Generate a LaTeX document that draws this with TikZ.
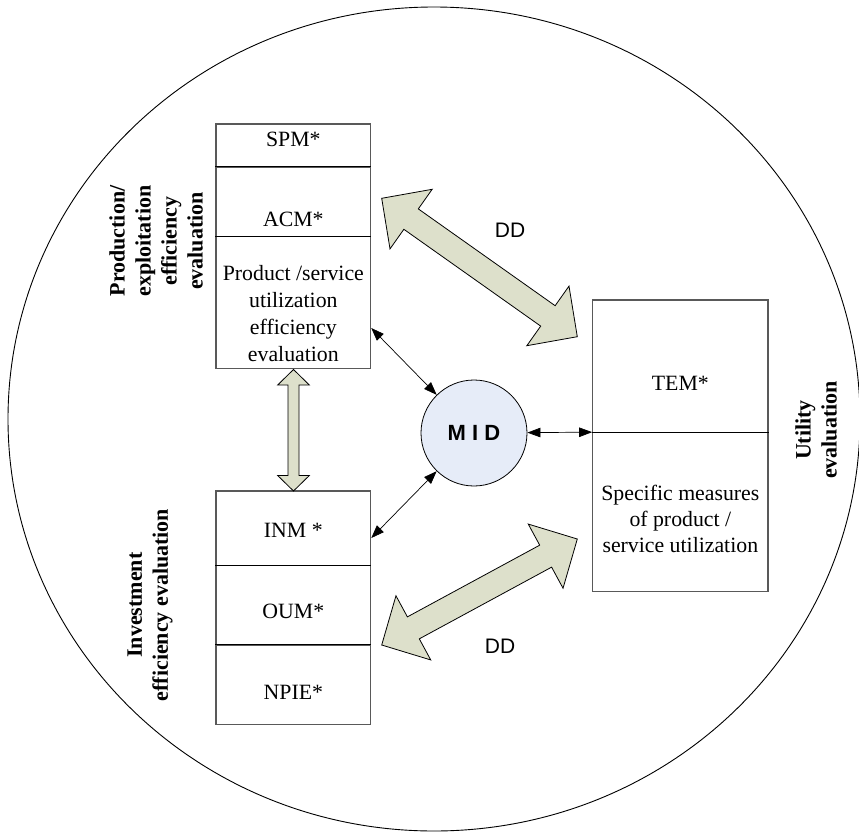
\documentclass[tikz,border=0pt]{standalone}
\usepackage{fontspec}
\setmainfont{Liberation Serif}
\newfontfamily\arialfont{Liberation Sans}
\usetikzlibrary{calc,arrows.meta}

\definecolor{arrowfill}{RGB}{221,224,203}
\definecolor{midfill}{RGB}{230,236,248}

\tikzset{
  cell/.style={draw=black!65, line width=1.1pt, minimum width=154.7pt, inner sep=0pt},
  rcell/.style={cell, minimum width=175.3pt},
  celltext/.style={font=\fontsize{21.8}{27}\selectfont, align=center, inner sep=0pt},
  sidelabel/.style={font=\fontsize{22}{26}\selectfont\bfseries, align=center, rotate=90, inner sep=0pt},
  biarrow/.style={{Triangle[length=13pt,width=9.5pt]}-{Triangle[length=13pt,width=9.5pt]}, line width=0.7pt},
  blockarrow/.style={draw=black, line width=0.8pt, fill=arrowfill, line join=miter},
  ddlabel/.style={font=\arialfont\fontsize{21}{25}\selectfont, inner sep=0pt},
  divider/.style={line width=0.8pt, draw=black},
}

% Wide two-headed arrow between two named points:
% #1 from, #2 to, #3 head length, #4 head half-width, #5 shaft half-width
\newcommand\fatarrow[5]{%
  \pgfpointdiff{\pgfpointanchor{#1}{center}}{\pgfpointanchor{#2}{center}}%
  \pgfgetlastxy\fatdx\fatdy
  \pgfmathsetmacro\fatang{atan2(\fatdy,\fatdx)}%
  \pgfmathsetmacro\fatlen{veclen(\fatdx,\fatdy)}%
  \begin{scope}[shift={(#1)}, rotate=\fatang, x=1pt, y=1pt]
    \draw[blockarrow] (0,0) -- (#3,#4) -- (#3,#5) -- (\fatlen-#3,#5)
      -- (\fatlen-#3,#4) -- (\fatlen,0) -- (\fatlen-#3,-#4)
      -- (\fatlen-#3,-#5) -- (#3,-#5) -- (#3,-#4) -- cycle;
  \end{scope}}

\begin{document}
\begin{tikzpicture}[x=1pt, y=-1pt]
  \useasboundingbox (0,0) rectangle (859,833);

  % enclosing ellipse
  \draw[line width=0.9pt] (434,419) ellipse [x radius=426, y radius=412];

  % production / exploitation stack
  \node[cell, minimum height=43.3pt]  (spm)  at (293.35,145.65) {};
  \node[cell, minimum height=69.4pt]  (acm)  at (293.35,202.0) {};
  \node[cell, minimum height=131.6pt] (prod) at (293.35,302.5) {};
  \draw[divider] (acm.north west) -- (acm.north east);
  \draw[divider] (prod.north west) -- (prod.north east);
  \node[celltext] (spmt)  at (293.35,139) {SPM*};
  \node[celltext] (acmt)  at (293.35,219) {ACM*};
  \node[celltext] (prodt) at (293.35,314) {Product /service\\utilization\\efficiency\\evaluation};

  % investment stack
  \node[cell, minimum height=74.7pt] (inm)  at (293.35,528.35) {};
  \node[cell, minimum height=79.6pt] (oum)  at (293.35,605.5) {};
  \node[cell, minimum height=79pt]   (npie) at (293.35,684.8) {};
  \draw[divider] (oum.north west) -- (oum.north east);
  \draw[divider] (npie.north west) -- (npie.north east);
  \node[celltext] (inmt)  at (293.35,530) {INM *};
  \node[celltext] (oumt)  at (293.35,611) {OUM*};
  \node[celltext] (npiet) at (293.35,692.5) {NPIE*};

  % utility stack
  \node[rcell, minimum height=132.7pt] (tem)  at (680.35,366.35) {};
  \node[rcell, minimum height=159pt]   (spec) at (680.35,512.2) {};
  \draw[divider] (spec.north west) -- (spec.north east);
  \node[celltext] (temt)  at (680.35,383) {TEM*};
  \node[celltext, font=\fontsize{21.8}{26}\selectfont] (spect) at (680.35,519) {Specific measures\\of product /\\service utilization};

  % side captions
  \node[sidelabel] (lprod) at (156,241) {Production/\\exploitation\\efficiency\\evaluation};
  \node[sidelabel] (linv)  at (150,605) {Investment\\efficiency evaluation};
  \node[sidelabel] (lutil) at (816,430) {Utility\\evaluation};

  % central node
  \node[circle, draw, line width=0.8pt, fill=midfill, minimum size=106pt, inner sep=0pt,
        font=\arialfont\fontsize{22}{26}\selectfont\bfseries] (mid) at (474,433) {M I D};

  % thin two-way links
  \coordinate (prodlink) at ($(prod.east)+(0,25.5)$);
  \coordinate (inmlink)  at ($(inm.east)+(0,9.7)$);
  \draw[biarrow] (prodlink) -- (mid);
  \draw[biarrow] (inmlink) -- (mid);
  \draw[biarrow] (mid) -- (spec.north west);

  % wide two-way arrows
  \coordinate (dda) at (381.7,198.3);
  \coordinate (ddb) at (577.3,336.7);
  \coordinate (ddc) at (381.7,645);
  \coordinate (ddd) at (577.3,539);
  \coordinate (vta) at (293.5,369.5);
  \coordinate (vtb) at (293.5,491);
  \fatarrow{dda}{ddb}{36}{36.5}{12.5}
  \fatarrow{ddc}{ddd}{36}{36.5}{12.5}
  \fatarrow{vta}{vtb}{15.5}{15.85}{5.5}

  \node[ddlabel] (dd1) at (510,230) {DD};
  \node[ddlabel] (dd2) at (500,646.5) {DD};
\end{tikzpicture}
\end{document}
